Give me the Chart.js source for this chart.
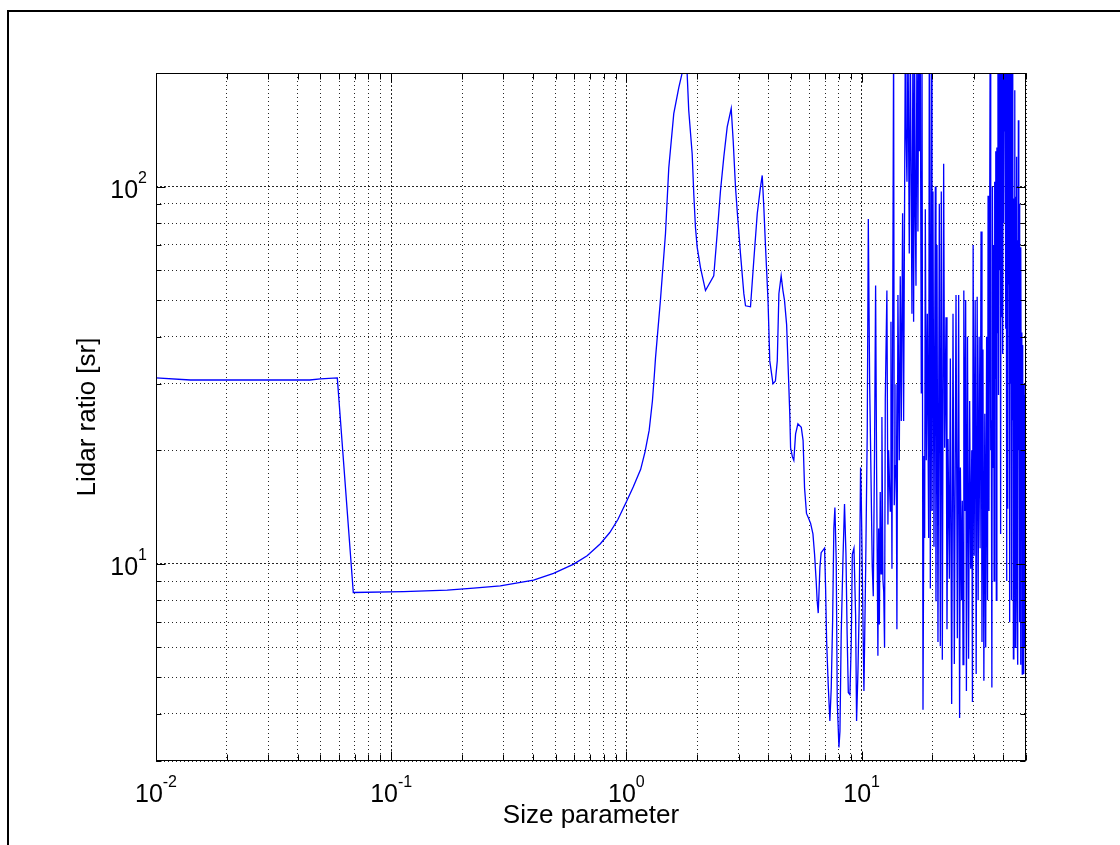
<!DOCTYPE html>
<html>
<head>
<meta charset="utf-8">
<title>Lidar ratio x Size parameter</title>
<script src="https://cdn.jsdelivr.net/npm/chart.js@4.4.1/dist/chart.umd.min.js"></script>
<style>
  html, body { margin: 0; padding: 0; background: #fff; }
  #quadro { width: 1120px; height: 845px; position: relative; }
</style>
</head>
<body>
<div id="quadro"><canvas id="grafico"></canvas></div>
<script>
// Parâmetro de tamanho (eixo x)
const sizeParameter = [
  // parte suave
  0.01, 0.014, 0.045, 0.05, 0.059, 0.069, 0.113, 0.173, 0.224, 0.291,
  0.403, 0.49, 0.597, 0.681, 0.775, 0.85, 0.92, 1.0, 1.07, 1.15,
  1.2, 1.25, 1.29, 1.314, 1.33, 1.395, 1.466, 1.514, 1.59, 1.67,
  1.726, 1.76, 1.79, 1.812, 1.841, 1.904, 1.934, 1.966, 2.0, 2.065,
  2.169, 2.352, 2.432, 2.512, 2.596, 2.683, 2.79, 2.845, 2.91, 2.958,
  3.055, 3.157, 3.21, 3.37, 3.48, 3.6, 3.716, 3.78, 3.84, 3.905,
  4.0, 4.07, 4.2, 4.3, 4.38, 4.45, 4.55, 4.63, 4.7, 4.8,
  4.9, 4.95,
  // 5 a 10
  4.99, 5.08, 5.15, 5.24, 5.36, 5.54, 5.64, 5.72, 5.83, 5.95,
  6.07, 6.21, 6.31, 6.41, 6.47, 6.54, 6.65, 6.73, 6.96, 7.03,
  7.10, 7.21, 7.33, 7.43, 7.53, 7.62, 7.70, 7.80, 7.88, 8.01,
  8.09, 8.19, 8.33, 8.46, 8.58, 8.68, 8.78, 8.92, 9.04, 9.13,
  9.28, 9.43, 9.52, 9.65, 9.77, 9.90,
  // 10 a 26
  9.97, 10.07, 10.23, 10.40, 10.57, 10.68, 10.82, 10.92, 11.10, 11.21,
  11.35, 11.47, 11.58, 11.73, 11.81, 11.90, 12.0, 12.1, 12.2, 12.32,
  12.42, 12.52, 12.61, 12.81, 12.94, 13.03, 13.24, 13.33, 13.46, 13.68,
  13.77, 13.91, 14.0, 14.13, 14.27, 14.46, 14.60, 14.75, 14.94, 15.09,
  15.34, 15.44, 15.59, 15.75, 15.95, 16.11, 16.26, 16.37, 16.53, 16.64,
  16.80, 16.91, 17.03, 17.19, 17.36, 17.48, 17.59, 17.76, 17.94, 18.06,
  18.24, 18.42, 18.54, 18.66, 18.84, 19.03, 19.28, 19.40, 19.60, 19.79,
  19.92, 20.11, 20.31, 20.58, 20.71, 20.92, 21.12, 21.40, 21.61, 21.82,
  22.04, 22.33, 22.55, 22.85, 23.07, 23.30, 23.61, 23.84, 24.15, 24.47,
  24.79, 25.20, 25.53, 25.86,
  // 26 a 35
  26.1, 26.3, 26.6, 26.8, 27.0, 27.2, 27.5, 27.7, 27.9, 28.2,
  28.5, 28.8, 29.1, 29.4, 29.6, 29.8, 30.1, 30.4, 30.7, 31.0,
  31.3, 31.6, 31.9, 32.2, 32.5, 32.8, 33.1, 33.4, 33.7, 34.0,
  34.3, 34.5, 34.8,
  // 35 a 50
  35.0, 35.2, 35.4, 35.6, 35.8, 36.0, 36.2, 36.4, 36.6, 36.8,
  37.0, 37.2, 37.4, 37.6, 37.8, 38.0, 38.2, 38.4, 38.6, 38.8,
  39.0, 39.2, 39.4, 39.6, 39.8, 40.0, 40.2, 40.4, 40.6, 40.8,
  41.0, 41.2, 41.4, 41.6, 41.8, 42.0, 42.2, 42.4, 42.6, 42.8,
  43.0, 43.2, 43.4, 43.6, 43.8, 44.0, 44.2, 44.4, 44.6, 44.8,
  45.0, 45.2, 45.4, 45.6, 45.8, 46.0, 46.2, 46.4, 46.6, 46.8,
  47.0, 47.2, 47.4, 47.6, 47.8, 48.0, 48.2, 48.4, 48.6, 48.8,
  49.0, 49.2, 49.4, 49.6, 49.8, 50.0
];

// Razão lidar [sr] (eixo y)
const lidarRatio = [
  31.1, 30.7, 30.7, 30.9, 31.1, 8.39, 8.44, 8.51, 8.62, 8.74,
  9.05, 9.43, 9.98, 10.5, 11.3, 12.1, 13.1, 14.6, 16.0, 17.8,
  19.8, 22.6, 27, 31.5, 35.2, 49.9, 75, 112, 156, 183,
  200, 235, 230, 200, 159, 122, 95.7, 78, 69, 61,
  53, 58, 75, 97.5, 120, 144, 161, 132, 99.6, 86.3,
  66.4, 52, 48.3, 48.0, 63.7, 84.7, 99.6, 107, 88, 69,
  50, 34.5, 30, 30.5, 34.5, 52, 58, 53, 50, 43,
  30, 25,

  20.3, 19.2, 18.8, 22.1, 23.5, 23, 21.2, 15.9, 13.6, 13.2,
  12.8, 12, 10.6, 9.0, 8.0, 7.4, 9.8, 10.7, 11.0, 8.6,
  6.25, 4.8, 3.83, 4.7, 7.06, 12.4, 14.1, 10.2, 4.3, 3.26,
  3.6, 6.5, 10.2, 14.4, 10.6, 6.5, 4.56, 4.5, 6.25, 10.6,
  11.0, 7.3, 3.83, 5.2, 7.7, 18,

  14.9, 9.5, 4.6, 9.5, 22.6, 82, 29.8, 20.3, 9.8, 8.2,
  20, 54.7, 18, 5.7, 12.4, 6.9, 15.5, 9.4, 24.5, 9.1,
  8.4, 6.0, 27.4, 53, 12.7, 20, 13.8, 43.8, 9.7, 250,
  14.3, 18.2, 29.9, 6.7, 51.6, 18.8, 57.8, 23.9, 85, 23.9,
  250, 143, 103, 250, 66.5, 250, 94.5, 46, 250, 43.8,
  250, 85, 54.6, 250, 76, 250, 124, 250, 28.4, 250,
  4.1, 19.3, 11.7, 87, 18.8, 46, 11.7, 250, 8.6, 230,
  13.8, 97, 11.1, 100, 7.95, 70, 6.2, 90, 6.04, 97,
  5.57, 115, 20.3, 45, 6.7, 21.4, 9.13, 35, 4.25, 46,
  5.42, 51.6, 6.35, 51.6,

  3.9, 18, 8, 14.7, 5.4, 53, 13.8, 50, 4.6, 40,
  5.6, 27, 9.7, 20, 4.3, 70, 10.5, 50, 5.1, 51,
  8, 40, 11, 76, 6.2, 37, 4.9, 25, 6, 40,
  8, 94.5, 13.8,

  60, 250, 20, 24, 4.7, 100, 18, 70, 9, 103,
  31, 124, 8, 127, 41, 250, 28, 250, 60, 250,
  12, 250, 45, 250, 36, 250, 80, 250, 140, 250,
  42, 250, 9, 250, 14, 250, 55, 250, 7, 250,
  30, 250, 8, 250, 24, 250, 5.6, 93, 10, 180,
  6, 94, 12, 120, 8, 72, 5.4, 150, 20, 90,
  7, 60, 5.4, 69, 15, 41, 5.1, 38, 9, 30,
  5.1, 28, 6, 30, 27, 5.0
];

// Linhas de grade (décadas + subdivisões) e expoentes dos rótulos
const xGridValues = [
  0.01, 0.02, 0.03, 0.04, 0.05, 0.06, 0.07, 0.08, 0.09,
  0.1, 0.2, 0.3, 0.4, 0.5, 0.6, 0.7, 0.8, 0.9,
  1, 2, 3, 4, 5, 6, 7, 8, 9,
  10, 20, 30, 40, 50
];
const yGridValues = [3, 4, 5, 6, 7, 8, 9, 10, 20, 30, 40, 50, 60, 70, 80, 90, 100, 200];
const xTickExponents = [-2, -1, 0, 1];
const yTickExponents = [1, 2];
const xLabel = 'Size parameter';
const yLabel = 'Lidar ratio [sr]';

const FONTE = 'Arial, "Liberation Sans", Helvetica, sans-serif';

function ehDecada(v) {
  const l = Math.log10(v);
  return Math.abs(l - Math.round(l)) < 1e-6;
}

// Caixa, marcas, rótulos no estilo MATLAB
const eixosMatlab = {
  id: 'eixosMatlab',
  afterDraw(chart) {
    const { ctx, chartArea: a, scales: { x, y } } = chart;
    ctx.save();

    // moldura da figura (só topo e esquerda aparecem)
    ctx.fillStyle = '#000';
    ctx.fillRect(7, 10, chart.width - 7, 2);
    ctx.fillRect(7, 10, 2, chart.height - 10);

    // caixa dos eixos
    const L = Math.round(a.left) + 0.5, R = Math.round(a.right) - 0.5;
    const T = Math.round(a.top) + 0.5, B = Math.round(a.bottom) - 0.5;
    ctx.strokeStyle = '#000';
    ctx.lineWidth = 1;
    ctx.strokeRect(L, T, R - L, B - T);

    // marcas para dentro
    ctx.beginPath();
    xGridValues.forEach(v => {
      const px = Math.round(x.getPixelForValue(v)) + 0.5;
      const len = ehDecada(v) ? 9 : 6;
      ctx.moveTo(px, B); ctx.lineTo(px, B - len);
      ctx.moveTo(px, T); ctx.lineTo(px, T + len);
    });
    yGridValues.forEach(v => {
      const py = Math.round(y.getPixelForValue(v)) + 0.5;
      const len = ehDecada(v) ? 9 : 5;
      ctx.moveTo(L, py); ctx.lineTo(L + len, py);
      ctx.moveTo(R, py); ctx.lineTo(R - len, py);
    });
    ctx.stroke();

    // rótulos 10^n
    ctx.fillStyle = '#000';
    ctx.textBaseline = 'alphabetic';
    ctx.textAlign = 'left';
    xTickExponents.forEach(e => {
      const px = x.getPixelForValue(Math.pow(10, e));
      ctx.font = '25px ' + FONTE;
      const wb = ctx.measureText('10').width;
      ctx.font = '16px ' + FONTE;
      const we = ctx.measureText(String(e)).width;
      const x0 = px - (wb + we) / 2;
      ctx.font = '25px ' + FONTE;
      ctx.fillText('10', x0, a.bottom + 41);
      ctx.font = '16px ' + FONTE;
      ctx.fillText(String(e), x0 + wb, a.bottom + 26);
    });
    yTickExponents.forEach(e => {
      const py = y.getPixelForValue(Math.pow(10, e));
      const x1 = a.left - 9;
      ctx.font = '16px ' + FONTE;
      const we = ctx.measureText(String(e)).width;
      ctx.fillText(String(e), x1 - we, py - 4);
      ctx.font = '25px ' + FONTE;
      const wb = ctx.measureText('10').width;
      ctx.fillText('10', x1 - we - wb, py + 11);
    });

    // títulos dos eixos
    ctx.font = '26px ' + FONTE;
    ctx.textAlign = 'center';
    ctx.fillText(xLabel, (a.left + a.right) / 2, a.bottom + 62);
    ctx.translate(95, (a.top + a.bottom) / 2);
    ctx.rotate(-Math.PI / 2);
    ctx.fillText(yLabel, 0, 0);

    ctx.restore();
  }
};

const pontos = sizeParameter.map((v, i) => ({ x: v, y: lidarRatio[i] }));

const tracejado = c => (c.tick && ehDecada(c.tick.value)) ? [2, 2] : [1, 3];

new Chart(document.getElementById('grafico'), {
  type: 'scatter',
  data: {
    datasets: [{
      data: pontos,
      showLine: true,
      borderColor: '#0000ff',
      borderWidth: 1.3,
      pointRadius: 0,
      pointHoverRadius: 0,
      fill: false,
      tension: 0
    }]
  },
  options: {
    responsive: true,
    maintainAspectRatio: false,
    animation: false,
    events: [],
    layout: { padding: { left: 156, right: 94, top: 73, bottom: 84 } },
    plugins: {
      legend: { display: false },
      tooltip: { enabled: false }
    },
    scales: {
      x: {
        type: 'logarithmic',
        min: 0.01,
        max: 50,
        afterBuildTicks: s => { s.ticks = xGridValues.map(v => ({ value: v })); },
        ticks: { display: false },
        grid: { color: 'rgba(0,0,0,0.85)', lineWidth: 1, drawTicks: false },
        border: { display: false, dash: tracejado }
      },
      y: {
        type: 'logarithmic',
        min: 3,
        max: 200,
        afterBuildTicks: s => { s.ticks = yGridValues.map(v => ({ value: v })); },
        ticks: { display: false },
        grid: { color: 'rgba(0,0,0,0.85)', lineWidth: 1, drawTicks: false },
        border: { display: false, dash: tracejado }
      }
    }
  },
  plugins: [eixosMatlab]
});
</script>
</body>
</html>
